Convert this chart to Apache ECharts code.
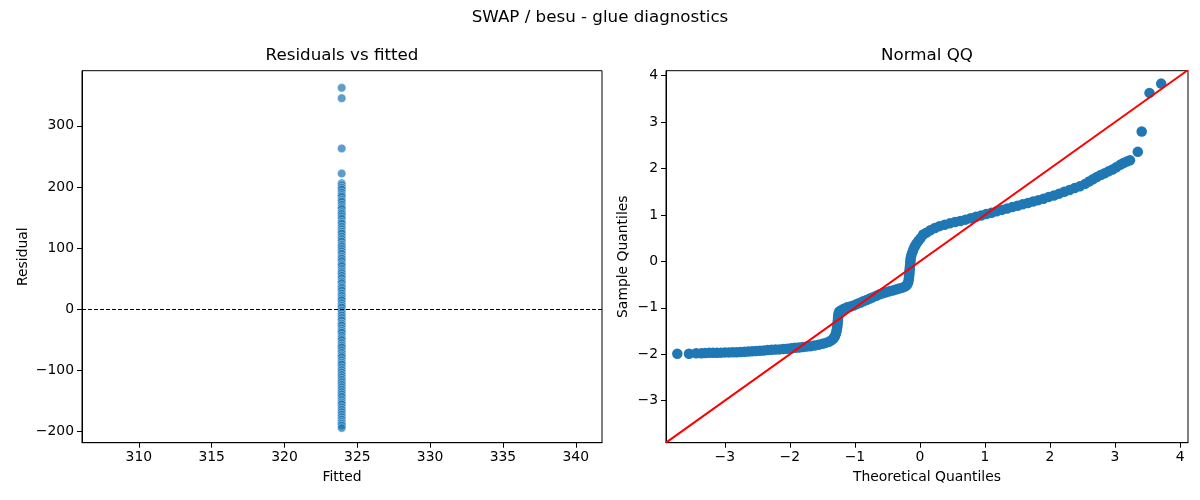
<!DOCTYPE html>
<html>
<head>
<meta charset="utf-8">
<script src="https://cdn.jsdelivr.net/npm/echarts@6/dist/echarts.min.js"></script>
<style>html,body{margin:0;padding:0;background:#fff;}#c{width:1200px;height:500px;}</style>
</head>
<body>
<div id="c"></div>
<script>
// ---- data ----
const fittedValue = 323.93;
const residuals = [362, 345, 263, 222, 206, 203, 199, 196, 191, 187, 184, 179, 176, 171, 167, 164, 159, 156, 152, 148, 143, 140, 135, 131, 127, 124, 119, 115, 111, 106, 103, 99, 95, 91, 86, 83, 79, 74, 71, 66, 62, 59, 55, 51, 46, 43, 38, 35, 31, 26, 22, 18, 15, 10, 6, 3, -2, -6, -10, -14, -18, -23, -26, -31, -35, -38, -43, -47, -50, -55, -59, -62, -67, -71, -75, -78, -83, -87, -90, -95, -99, -103, -107, -111, -115, -119, -123, -127, -131, -135, -139, -143, -148, -152, -155, -160, -164, -168, -172, -176, -180, -184, -187, -190, -194];

const theoretical = [-3.73, -3.55, -3.44, -3.36, -3.30, -3.24, -3.18, -3.12, -3.06, -3.00, -2.94, -2.88, -2.82, -2.76, -2.70, -2.64, -2.58, -2.52, -2.46, -2.40, -2.34, -2.28, -2.22, -2.16, -2.10, -2.04, -1.98, -1.92, -1.86, -1.80, -1.74, -1.68, -1.62, -1.56, -1.50, -1.45, -1.40, -1.36, -1.33, -1.31, -1.295, -1.285, -1.278, -1.272, -1.268, -1.264, -1.261, -1.258, -1.255, -1.25, -1.24, -1.21, -1.17, -1.12, -1.07, -1.02, -0.97, -0.92, -0.87, -0.82, -0.77, -0.72, -0.67, -0.62, -0.57, -0.52, -0.47, -0.42, -0.37, -0.32, -0.27, -0.23, -0.20, -0.185, -0.175, -0.17, -0.166, -0.163, -0.16, -0.157, -0.154, -0.151, -0.148, -0.145, -0.14, -0.13, -0.115, -0.10, -0.08, -0.055, -0.025, 0.01, 0.05, 0.10, 0.16, 0.23, 0.30, 0.38, 0.46, 0.54, 0.62, 0.70, 0.78, 0.86, 0.94, 1.02, 1.10, 1.18, 1.26, 1.34, 1.42, 1.50, 1.58, 1.66, 1.74, 1.82, 1.90, 1.98, 2.06, 2.14, 2.22, 2.30, 2.38, 2.46, 2.54, 2.60, 2.66, 2.72, 2.78, 2.84, 2.90, 2.96, 3.02, 3.08, 3.13, 3.18, 3.23, 3.35, 3.41, 3.53, 3.71];
const sample = [-1.99, -1.99, -1.98, -1.98, -1.975, -1.97, -1.97, -1.97, -1.965, -1.96, -1.96, -1.955, -1.955, -1.95, -1.945, -1.94, -1.935, -1.93, -1.925, -1.92, -1.91, -1.905, -1.90, -1.895, -1.885, -1.88, -1.87, -1.86, -1.855, -1.845, -1.835, -1.825, -1.81, -1.795, -1.775, -1.755, -1.73, -1.70, -1.66, -1.62, -1.57, -1.52, -1.47, -1.42, -1.37, -1.32, -1.27, -1.22, -1.17, -1.12, -1.08, -1.05, -1.02, -0.99, -0.97, -0.95, -0.92, -0.89, -0.86, -0.83, -0.80, -0.77, -0.74, -0.71, -0.685, -0.665, -0.645, -0.625, -0.605, -0.585, -0.565, -0.54, -0.51, -0.47, -0.42, -0.37, -0.32, -0.27, -0.22, -0.17, -0.12, -0.07, -0.02, 0.03, 0.08, 0.14, 0.20, 0.26, 0.32, 0.38, 0.44, 0.50, 0.58, 0.62, 0.67, 0.72, 0.76, 0.79, 0.82, 0.85, 0.87, 0.90, 0.93, 0.96, 0.99, 1.02, 1.05, 1.08, 1.11, 1.14, 1.17, 1.20, 1.23, 1.26, 1.29, 1.32, 1.35, 1.39, 1.42, 1.46, 1.50, 1.54, 1.58, 1.62, 1.67, 1.72, 1.77, 1.82, 1.86, 1.90, 1.94, 1.98, 2.03, 2.08, 2.12, 2.15, 2.18, 2.36, 2.80, 3.63, 3.83];

const refLine = [[-3.904, -3.904], [4.122, 4.122]];

const residXTicks = [310, 315, 320, 325, 330, 335, 340];
const residYTicks = [-200, -100, 0, 100, 200, 300];
const qqXTicks = [-3, -2, -1, 0, 1, 2, 3, 4];
const qqYTicks = [-3, -2, -1, 0, 1, 2, 3, 4];

// ---- chart ----
const FONT = 'DejaVu Sans';
const fmt = v => (v < 0 ? '\u2212' + Math.abs(v) : String(v));

function valAxis(grid, min, max, ticks, name, gap) {
  return {
    type: 'value', gridIndex: grid, min: min, max: max,
    name: name, nameLocation: 'middle', nameGap: gap,
    nameTextStyle: { fontFamily: FONT, fontSize: 13.9, color: '#000' },
    axisLine: { show: true, onZero: false, lineStyle: { color: '#000', width: 1 } },
    axisTick: { show: true, inside: false, length: 5, customValues: ticks, lineStyle: { color: '#000', width: 1 } },
    axisLabel: { show: true, margin: 8, customValues: ticks, formatter: fmt, fontFamily: FONT, fontSize: 13.9, color: '#000' },
    splitLine: { show: false }
  };
}

const chart = echarts.init(document.getElementById('c'), null, { renderer: 'canvas' });
const opt = {
  animation: false,
  backgroundColor: '#fff',
  grid: [
    { left: 82, top: 70.7, width: 520, height: 372, show: true, borderColor: '#000', borderWidth: 1, backgroundColor: 'transparent' },
    { left: 666, top: 70.7, width: 522, height: 372, show: true, borderColor: '#000', borderWidth: 1, backgroundColor: 'transparent' }
  ],
  xAxis: [
    valAxis(0, 306.1, 341.8, residXTicks, 'Fitted', 28),
    valAxis(1, -3.904, 4.122, qqXTicks, 'Theoretical Quantiles', 28)
  ],
  yAxis: [
    valAxis(0, -218, 390, residYTicks, 'Residual', 52),
    valAxis(1, -3.905, 4.108, qqYTicks, 'Sample Quantiles', 36)
  ],
  graphic: [
    { type: 'text', x: 600, y: 18, style: { text: 'SWAP / besu - glue diagnostics', align: 'center', verticalAlign: 'middle', textAlign: 'center', textVerticalAlign: 'middle', font: '16.7px "DejaVu Sans"', fill: '#000' } },
    { type: 'text', x: 342, y: 56, style: { text: 'Residuals vs fitted', align: 'center', verticalAlign: 'middle', textAlign: 'center', textVerticalAlign: 'middle', font: '16.7px "DejaVu Sans"', fill: '#000' } },
    { type: 'text', x: 927, y: 56, style: { text: 'Normal QQ', align: 'center', verticalAlign: 'middle', textAlign: 'center', textVerticalAlign: 'middle', font: '16.7px "DejaVu Sans"', fill: '#000' } }
  ],
  series: [
    {
      type: 'scatter', xAxisIndex: 0, yAxisIndex: 0,
      data: residuals.map(r => [fittedValue, r]),
      symbolSize: 8.5,
      itemStyle: { color: 'rgba(31,119,180,0.72)', borderColor: 'rgba(255,255,255,0.8)', borderWidth: 0.5, opacity: 1 },
      markLine: {
        silent: true, symbol: 'none', animation: false,
        label: { show: false },
        lineStyle: { color: '#000', width: 1, type: [4, 2] },
        data: [{ yAxis: 0 }]
      }
    },
    {
      type: 'scatter', xAxisIndex: 1, yAxisIndex: 1,
      data: theoretical.map((t, i) => [t, sample[i]]),
      symbolSize: 10.5,
      itemStyle: { color: '#1f77b4', opacity: 1 }
    },
    {
      type: 'line', xAxisIndex: 1, yAxisIndex: 1,
      data: refLine, showSymbol: false, symbol: 'none', clip: true, z: 5,
      lineStyle: { color: '#ff0000', width: 2 }
    }
  ]
};
chart.setOption(opt);
</script>
</body>
</html>
